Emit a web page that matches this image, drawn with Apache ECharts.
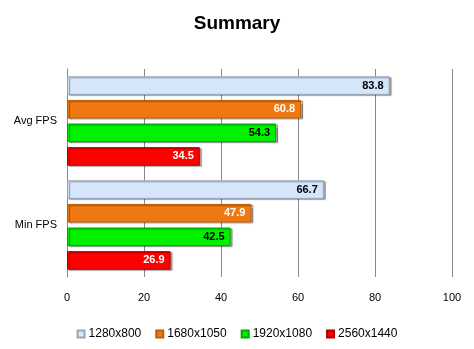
<!DOCTYPE html>
<html><head><meta charset="utf-8">
<script src="https://cdn.jsdelivr.net/npm/echarts@6/dist/echarts.min.js"></script>
<style>html,body{margin:0;padding:0;background:#fff}#c{width:474px;height:349px}</style>
</head><body><div id="c"></div>
<script>
var categories = ['Avg FPS', 'Min FPS'];
var seriesNames = ['1280x800', '1680x1050', '1920x1080', '2560x1440'];
var s1280 = [83.8, 66.7];
var s1680 = [60.8, 47.9];
var s1920 = [54.3, 42.5];
var s2560 = [34.5, 26.9];
var xTicks = [0, 20, 40, 60, 80, 100];

var fills = ['#d5e5fa', '#f07812', '#00f000', '#ff0000'];
var borders = ['#98a6b8', '#b8600c', '#00a800', '#b00000'];
var labelColors = ['#000', '#fff', '#000', '#fff'];
var values = [s1280, s1680, s1920, s2560];
var font = '"Liberation Sans", Arial, sans-serif';

var chart = echarts.init(document.getElementById('c'));
chart.setOption({
  animation: false,
  backgroundColor: '#fff',
  title: {text: 'Summary', left: 'center', top: 9,
    textStyle: {fontFamily: font, fontWeight: 'bold', fontSize: 19, color: '#000'}},
  grid: {left: 67, right: 22, top: 69, bottom: 72, containLabel: false},
  xAxis: {type: 'value', min: xTicks[0], max: xTicks[xTicks.length - 1], interval: 20,
    axisLine: {show: false}, axisTick: {show: false},
    splitLine: {lineStyle: {color: '#888', width: 1}},
    axisLabel: {margin: 15, color: '#000', fontSize: 11, fontFamily: font}},
  yAxis: {type: 'category', data: categories, inverse: true,
    axisLine: {show: true, lineStyle: {color: '#888'}}, axisTick: {show: false},
    axisLabel: {margin: 10, color: '#000', fontSize: 11, fontFamily: font}},
  legend: {bottom: 4, left: 'center', itemWidth: 7, itemHeight: 7, itemGap: 14,
    textStyle: {fontFamily: font, fontSize: 12, color: '#000', padding: [0, 0, 0, -1]},
    data: seriesNames.map(function (n, i) { return {name: n, icon: 'rect'}; })},
  series: seriesNames.map(function (n, i) {
    return {
      name: n, type: 'bar', data: values[i],
      barGap: '27%', barCategoryGap: '14%',
      itemStyle: {color: fills[i], borderColor: borders[i], borderWidth: 1,
        shadowColor: 'rgba(0,0,0,0.35)', shadowOffsetX: 2, shadowOffsetY: 1, shadowBlur: 1},
      label: {show: true, position: 'insideRight', distance: 6, color: labelColors[i],
        fontWeight: 'bold', fontSize: 11, fontFamily: font}
    };
  })
});
</script></body></html>
